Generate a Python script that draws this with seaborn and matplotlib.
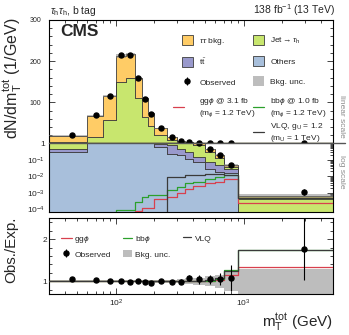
import numpy as np
import pandas as pd
import matplotlib.pyplot as plt
import seaborn as sns
from matplotlib.patches import Patch
from matplotlib.lines import Line2D
from matplotlib.ticker import MultipleLocator, LogLocator, FuncFormatter, NullFormatter

# m_T^tot bin edges (GeV)
edges = [30, 60, 80, 100, 120, 140, 160, 180, 200, 250, 300, 350, 400, 500, 600, 700, 900, 5000]

# background stack, events / GeV
ztt = [14.8, 51, 58, 63, 56, 48, 45, 32, 17, 6.8, 1.86, 0.45, 0.2, 0.11, 0.06, 0.008, 2.6e-4]
jetfakes = [3.75, 14.75, 55.5, 148, 158, 108, 63, 40, 18.5, 7.3, 4.05, 2.52, 0.61, 0.23, 0.084, 0.011, 3.5e-4]
ttbar = [0.17, 0.3, 0.5, 0.8, 1.0, 1.0, 0.9, 0.8, 0.34, 0.48, 0.27, 0.17, 0.07, 0.041, 0.028, 0.012, 3e-5]
others = [0.28, 1.05, 1.1, 1.2, 1.2, 1.15, 1.1, 1.05, 0.56, 0.23, 0.18, 0.11, 0.07, 0.029, 0.018, 0.015, 4e-5]

observed = [20, 69, 115, 215, 214, 158, 109, 71.5, 36.7, 14.5, 6.3, 3.5, 1.0, 0.43, 0.2, 0.05, 1.2e-3]
observed_err = [0.6, 1.9, 2.4, 3.3, 3.3, 2.8, 2.3, 1.9, 0.9, 0.5, 0.35, 0.25, 0.1, 0.045, 0.028, 0.014, 5e-4]
bkg_unc = [0.02, 0.02, 0.02, 0.02, 0.02, 0.02, 0.02, 0.02, 0.03, 0.04, 0.05, 0.07, 0.09, 0.12, 0.15, 0.22, 0.3]

# signals, events / GeV (1e-6 = below the plotted range)
ggphi = [1e-6, 1e-6, 1e-6, 1e-6, 1e-6, 8e-5, 1.2e-4, 1.3e-4, 4.2e-4, 5.9e-4, 9.5e-4, 1.6e-3, 2.6e-3, 3.7e-3, 4.6e-3, 6.6e-3, 2.3e-4]
bbphi = [1e-6, 1e-6, 1e-6, 9.6e-5, 9.6e-5, 3e-4, 5.9e-4, 7.6e-4, 7.6e-4, 1.5e-3, 2.3e-3, 3.7e-3, 4.6e-3, 6.4e-3, 9.3e-3, 1.25e-2, 5e-4]
vlq = [1e-6, 1e-6, 1e-6, 1e-6, 1e-6, 1e-6, 1e-6, 1e-6, 1e-6, 9.3e-3, 9.3e-3, 1.17e-2, 1.17e-2, 1.4e-2, 1.4e-2, 1.15e-2, 5.1e-4]

process_names = ['ztt', 'jetfakes', 'ttbar', 'others']
colors = {'ztt': '#ffcc66', 'jetfakes': '#c8e66e', 'ttbar': '#9999cc', 'others': '#a8bfdb'}
red, green, dark = '#d8404e', '#2ca02c', '#3a3a3a'

sns.set_style('ticks')
plt.rcParams['font.family'] = ['Liberation Sans', 'DejaVu Sans']
plt.rcParams['mathtext.fontset'] = 'custom'
plt.rcParams['mathtext.rm'] = 'Liberation Sans'
plt.rcParams['mathtext.it'] = 'Liberation Sans:italic'
plt.rcParams['mathtext.bf'] = 'Liberation Sans:bold'

e = np.array(edges, dtype=float)
centers = np.sqrt(e[:-1] * e[1:])
mids = (e[:-1] + e[1:]) / 2
stack = pd.DataFrame({
    'mt': np.tile(centers, 4),
    'value': np.concatenate([ztt, jetfakes, ttbar, others]),
    'process': np.repeat(process_names, len(centers)),
})
total = np.sum([ztt, jetfakes, ttbar, others], axis=0)
obs = np.array(observed)
unc = np.array(bkg_unc)
log_bins = [float(b) for b in np.log10(e)]


def ext(v):
    v = np.asarray(v, dtype=float)
    return np.append(v, v[-1])


W, H = 349, 335
fig = plt.figure(figsize=(W / 100, H / 100), dpi=100)
L, AW = 49 / W, 284 / W
ax_lin = fig.add_axes([L, (H - 143) / H, AW, 123 / H])
ax_log = fig.add_axes([L, (H - 212) / H, AW, 69 / H])
ax_rat = fig.add_axes([L, (H - 294) / H, AW, 76 / H])

for ax in (ax_lin, ax_log):
    sns.histplot(data=stack, x='mt', weights='value', hue='process', hue_order=process_names,
                 palette=colors, multiple='stack', element='step', bins=log_bins,
                 log_scale=True, alpha=1, edgecolor='#3c3c3c', linewidth=0.6,
                 legend=False, ax=ax)
    ax.fill_between(e, ext(total * (1 - unc)), ext(total * (1 + unc)), step='post',
                    color='#808080', alpha=0.5, lw=0, zorder=3)
    for sig, c in ((ggphi, red), (bbphi, green), (vlq, dark)):
        sns.lineplot(x=e, y=ext(sig), drawstyle='steps-post', color=c, lw=0.9, ax=ax, zorder=4)
    eb = ax.errorbar(mids, obs, yerr=observed_err, fmt='o', color='black', ms=3.6,
                     elinewidth=0.8, capsize=0, zorder=5)
    ax.set_xlim(30, 5000)
    ax.set_xlabel('')
    ax.set_ylabel('')

ax_lin.set_ylim(1, 300)
ax_lin.yaxis.set_major_locator(MultipleLocator(100))
ax_lin.yaxis.set_minor_locator(MultipleLocator(20))
ax_log.set_yscale('log')
ax_log.set_ylim(7e-5, 1)
ax_log.yaxis.set_major_locator(LogLocator(base=10, numticks=10))
ax_log.yaxis.set_minor_locator(LogLocator(base=10, subs=np.arange(2, 10), numticks=10))
ax_log.yaxis.set_major_formatter(FuncFormatter(
    lambda v, p: '1' if abs(v - 1) < 1e-9 else r'$10^{%d}$' % round(np.log10(v))))
ax_log.yaxis.set_minor_formatter(NullFormatter())

# ratio panel
r_obs = obs / total
r_err = np.array(observed_err) / total
ax_rat.set_xscale('log')
ax_rat.fill_between(e, ext(1 - unc), ext(1 + unc), step='post', color='#bdbdbd', lw=0, zorder=1)
for sig, c in ((ggphi, red), (bbphi, green), (vlq, dark)):
    sns.lineplot(x=e, y=ext((total + np.array(sig)) / total), drawstyle='steps-post',
                 color=c, lw=0.9, ax=ax_rat, zorder=3)
ax_rat.errorbar(mids, r_obs, yerr=r_err, fmt='o', color='black', ms=3.6, elinewidth=0.8,
                capsize=0, zorder=5)
ax_rat.set_xlim(30, 5000)
ax_rat.set_ylim(0.7, 2.5)
ax_rat.yaxis.set_major_locator(MultipleLocator(1))
ax_rat.yaxis.set_minor_locator(MultipleLocator(0.2))

for ax in (ax_lin, ax_log, ax_rat):
    for s in ax.spines.values():
        s.set_linewidth(0.8)
        s.set_color('black')
    ax.tick_params(which='both', direction='in', left=True, right=True, labelsize=6, width=0.6)
    ax.tick_params(which='major', length=4)
    ax.tick_params(which='minor', length=2.2)
ax_lin.spines['bottom'].set_visible(False)
ax_log.spines['top'].set_visible(False)
ax_lin.tick_params(axis='x', which='both', top=True, bottom=False, labelbottom=False)
ax_lin.tick_params(axis='y', labelsize=5, pad=5.5)
ax_log.tick_params(axis='x', which='both', top=False, bottom=True, labelbottom=False)
ax_log.tick_params(axis='y', pad=3)
ax_rat.tick_params(axis='x', which='both', top=True, bottom=True, pad=3)
ax_rat.tick_params(axis='y', pad=1.5)

# boundary between linear and log parts
fig.add_artist(Line2D([L, 345 / W], [(H - 143) / H] * 2, color='#555555', lw=1))

# axis titles and labels
fig.text(13 / W, 1 - 17 / H, r'dN/dm$_{\mathrm{T}}^{\mathrm{tot}}$ (1/GeV)', rotation=90,
         ha='center', va='top', fontsize=11.5)
fig.text(11 / W, 1 - 217 / H, 'Obs./Exp.', rotation=90, ha='center', va='top', fontsize=11)
fig.text(333 / W, 2 / H, r'm$_{\mathrm{T}}^{\mathrm{tot}}$ (GeV)', ha='right', va='bottom', fontsize=11)
fig.text(50 / W, 1 - 14 / H, r'$\tau_{\mathrm{h}}\tau_{\mathrm{h}}$, b tag', ha='left',
         va='baseline', fontsize=7.5)
fig.text(335 / W, 1 - 14 / H, r'138 fb$^{-1}$ (13 TeV)', ha='right', va='baseline', fontsize=7.5)
fig.text(60 / W, 1 - 24.5 / H, 'CMS', ha='left', va='top', fontsize=12.5, fontweight='bold')
fig.text(342 / W, 1 - 116 / H, 'linear scale', rotation=270, ha='center', va='center',
         fontsize=6, color='#8c8c8c')
fig.text(342 / W, 1 - 172 / H, 'log scale', rotation=270, ha='center', va='center',
         fontsize=6, color='#8c8c8c')


def legend(handles, labels, x, y, **kw):
    opts = dict(loc='upper left', bbox_to_anchor=(x / W, 1 - y / H),
                frameon=False, borderpad=0, borderaxespad=0, fontsize=6, handlelength=1.3)
    opts.update(kw)
    return fig.legend(handles, labels, **opts)


def box(c):
    return Patch(facecolor=c, edgecolor='#3c3c3c', lw=0.6)


legend([box(colors['ztt']), box(colors['ttbar']), eb],
       [r'$\tau\tau$ bkg.', r'$\mathrm{t\bar{t}}$', 'Observed'],
       182, 35, handleheight=1.45, labelspacing=1.2, handletextpad=0.8)
legend([box(colors['jetfakes']), box(colors['others']), Patch(facecolor='#bdbdbd', lw=0)],
       [r'Jet$\rightarrow\tau_{\mathrm{h}}$', 'Others', 'Bkg. unc.'],
       253, 35, handleheight=1.45, labelspacing=1.2, handletextpad=0.8)
legend([Line2D([], [], color=red, lw=0.9)],
       ['gg$\\phi$ @ 3.1 fb\n(m$_{\\phi}$ = 1.2 TeV)'],
       173, 96, handletextpad=1.8)
legend([Line2D([], [], color=green, lw=0.9), Line2D([], [], color=dark, lw=0.9)],
       ['bb$\\phi$ @ 1.0 fb\n(m$_{\\phi}$ = 1.2 TeV)',
        'VLQ, g$_{\\mathrm{U}}$ = 1.2\n(m$_{\\mathrm{U}}$ = 1 TeV)'],
       253, 96, labelspacing=0.2, handletextpad=0.8)

legend([Line2D([], [], color=red, lw=0.9), eb], [r'gg$\phi$', 'Observed'],
       61, 234, labelspacing=0.6, handlelength=1.3, handletextpad=0.3, handleheight=1.0)
legend([Line2D([], [], color=green, lw=0.9), Patch(facecolor='#bdbdbd', lw=0)],
       [r'bb$\phi$', 'Bkg. unc.'],
       123, 234, labelspacing=0.6, handlelength=1.1, handletextpad=0.3, handleheight=1.0)
legend([Line2D([], [], color=dark, lw=0.9)], ['VLQ'],
       183, 234, handlelength=1.0, handletextpad=0.4, handleheight=1.0)

fig.savefig('out.png', dpi=100)
